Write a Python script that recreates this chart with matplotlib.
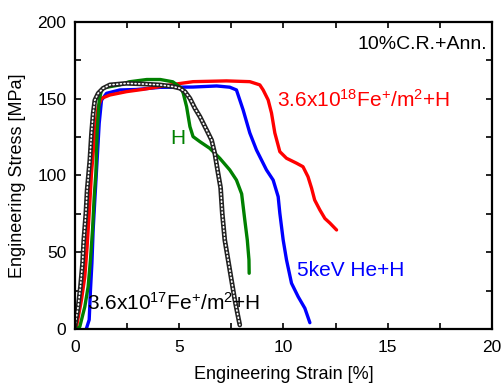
import matplotlib
matplotlib.use("Agg")
import matplotlib.pyplot as plt
from matplotlib.ticker import MultipleLocator

plt.rcParams["font.family"] = ["Liberation Sans", "DejaVu Sans"]
plt.rcParams["mathtext.fontset"] = "custom"
plt.rcParams["mathtext.rm"] = "Liberation Sans"
plt.rcParams["mathtext.it"] = "Liberation Sans"

# 3.6x10^18 Fe+/m2 + H (red)
red_x = [0.0, 0.08, 0.32, 0.48, 0.59, 0.69, 0.8, 0.96, 1.12, 1.28, 1.68, 2.48, 3.28, 4.08, 4.88,
         5.67, 7.27, 8.39, 8.87, 9.03, 9.27, 9.43, 9.59, 9.83, 10.15, 10.63, 10.94, 11.18, 11.35,
         11.5, 11.75, 11.99, 12.23, 12.55]
red_y = [0, 1.5, 19, 34, 53.6, 75.4, 101.4, 127.5, 144.8, 150.2, 152.4, 154.6, 156.1, 157.9, 159.6,
         161.1, 161.6, 161.1, 159, 155.7, 149.2, 140.7, 127.7, 115.5, 111.2, 108, 105.7, 99.2, 91.8,
         84, 77.5, 72, 69, 64.5]

# 5keV He + H (blue)
blue_x = [0.55, 0.69, 0.75, 0.82, 0.88, 0.96, 1.07, 1.17, 1.28, 1.52, 2.16, 2.96, 4.08, 5.67, 6.8,
          7.43, 7.75, 8.07, 8.39, 8.71, 9.19, 9.51, 9.75, 9.83, 9.99, 10.15, 10.39, 10.71, 11.03,
          11.27]
blue_y = [0, 6, 25, 42.8, 64.5, 84, 110, 134, 149, 153.5, 155.7, 156, 157.4, 157.6, 158.3,
          157.5, 155.7, 142.7, 127.7, 116.6, 103.6, 97, 86.2, 75.4, 58, 45, 29.8, 21, 13.5,
          4.1]

# H (green)
green_x = [0.1, 0.24, 0.48, 0.64, 0.75, 0.85, 0.93, 1.01, 1.07, 1.17, 1.28, 1.35, 2.16, 2.6, 3.45,
           4.1, 4.7, 5.1, 5.2, 5.36, 5.52, 5.67, 6.0, 6.47, 6.95, 7.43, 7.75, 8.0, 8.15, 8.27,
           8.35, 8.36]
green_y = [0, 1.5, 14.5, 27.6, 45, 64.5, 86, 101.4, 127.5, 149, 155.7, 157, 159, 161, 162.5,
           162.5, 161, 157, 153.5, 144.8, 131.8, 125.3, 122, 117.7, 111.2, 103.6, 97, 88, 71, 58,
           45, 36.3]

# 3.6x10^17 Fe+/m2 + H (black, open circles)
black_x = [0.0, 0.16, 0.27, 0.37, 0.43, 0.53, 0.59, 0.72, 0.8, 0.88, 0.96, 1.12, 1.36, 1.68, 2.48,
           3.28, 4.08, 4.71, 5.04, 5.28, 5.52, 5.76, 6.0, 6.32, 6.56, 6.71, 6.87, 6.99, 7.07,
           7.19, 7.35, 7.51, 7.67, 7.83, 7.91]
black_y = [1.5, 14.5, 27.6, 42.8, 58, 75.4, 90.5, 110, 127.5, 140.5, 149, 153.5, 156.8, 159, 160,
           159.6, 159, 157.9, 156.8, 154.6, 150.2, 143.7, 138.3, 129.6, 123, 114.5, 101.4, 92, 75.4,
           58, 45, 32, 19, 8, 2.6]

fig = plt.figure(figsize=(5.02, 3.85), dpi=100)
ax = fig.add_axes([0.149, 0.1455, 0.831, 0.7975])

ax.plot(blue_x, blue_y, color="#0000ff", lw=2.4, solid_capstyle="round")
ax.plot(red_x, red_y, color="#ff0000", lw=2.4, solid_capstyle="round")
ax.plot(green_x, green_y, color="#008000", lw=2.4, solid_capstyle="round")
# open-circle look: dark band with white holes
ax.plot(black_x, black_y, color="#222222", lw=3.4, solid_capstyle="round")
ax.plot(black_x, black_y, color="white", lw=1.2, linestyle=(0, (0.6, 1.6)),
        dash_capstyle="round")

ax.set_xlim(0, 20)
ax.set_ylim(0, 200)
ax.xaxis.set_major_locator(MultipleLocator(5))
ax.xaxis.set_minor_locator(MultipleLocator(2.5))
ax.yaxis.set_major_locator(MultipleLocator(50))
ax.yaxis.set_minor_locator(MultipleLocator(25))
ax.tick_params(which="both", direction="in", top=True, right=True, length=4, width=1.2,
               labelsize=12.5)
ax.tick_params(axis="x", pad=8)
ax.tick_params(axis="y", pad=6)
for s in ax.spines.values():
    s.set_linewidth(1.6)

ax.set_xlabel("Engineering Strain [%]", fontsize=13, labelpad=8)
ax.set_ylabel("Engineering Stress [MPa]", fontsize=13, labelpad=8)

ax.text(19.76, 185, "10%C.R.+Ann.", fontsize=14, ha="right", va="center")
ax.text(9.69, 149, "3.6x10$^{18}$Fe$^{+}$/m$^{2}$+H", fontsize=15, color="#ff0000",
        va="center")
ax.text(10.65, 38, "5keV He+H", fontsize=15, color="#0000ff", va="center")
ax.text(4.94, 124, "H", fontsize=15, color="#008000", ha="center", va="center")
ax.text(0.58, 17, "3.6x10$^{17}$Fe$^{+}$/m$^{2}$+H", fontsize=15, color="black", va="center")

fig.savefig("out.png", dpi=100)
